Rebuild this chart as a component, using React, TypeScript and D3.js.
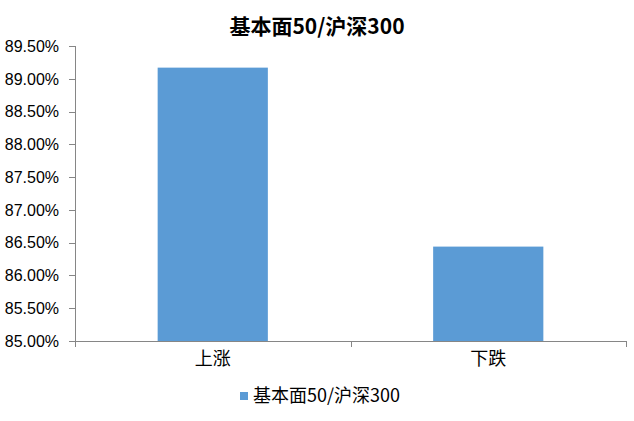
import React from "react";
import * as d3 from "d3";

const categories = ["上涨", "下跌"];
const values = [89.17, 86.44];
const yTicks = [85, 85.5, 86, 86.5, 87, 87.5, 88, 88.5, 89, 89.5];
const seriesName = "基本面50/沪深300";
const title = "基本面50/沪深300";

const W = 634;
const H = 421;
const left = 75;
const right = 626;
const top = 46;
const bottom = 341;
const color = "#5B9BD5";
const axisColor = "#868686";
const font = "'Liberation Sans', 'Noto Sans CJK SC', sans-serif";
const cjk = "'Noto Sans CJK SC', sans-serif";

export default function App() {
  const x = d3.scaleBand<string>().domain(categories).range([left, right]);
  const y = d3.scaleLinear().domain([85, 89.5]).range([bottom, top]);
  const barW = x.bandwidth() * 0.4;
  return (
    <svg width={W} height={H} style={{ position: "absolute", left: 0, top: 0, background: "#fff" }}>
      <text x={317} y={34} textAnchor="middle" fontFamily={cjk} fontWeight="bold" fontSize={21} fill="#000">
        {title}
      </text>
      {categories.map((c, i) => (
        <rect
          key={c}
          x={(x(c) as number) + (x.bandwidth() - barW) / 2}
          y={y(values[i])}
          width={barW}
          height={bottom - y(values[i])}
          fill={color}
        />
      ))}
      <line x1={left + 0.5} x2={left + 0.5} y1={top} y2={bottom} stroke={axisColor} strokeWidth={1} />
      {yTicks.map((t) => (
        <g key={t}>
          <line x1={left - 6} x2={left} y1={Math.round(y(t)) + 0.5} y2={Math.round(y(t)) + 0.5} stroke={axisColor} />
          <text x={59} y={y(t)} dy="0.36em" textAnchor="end" fontFamily={font} fontSize={16} fill="#000">
            {d3.format(".2f")(t) + "%"}
          </text>
        </g>
      ))}
      <line x1={left} x2={right} y1={bottom + 0.5} y2={bottom + 0.5} stroke={axisColor} />
      {[left, ...categories.map((c) => (x(c) as number) + x.bandwidth())].map((px, i) => (
        <line key={i} x1={Math.round(px) + 0.5} x2={Math.round(px) + 0.5} y1={bottom} y2={bottom + 6} stroke={axisColor} />
      ))}
      {categories.map((c) => (
        <text key={c} x={(x(c) as number) + x.bandwidth() / 2} y={365} textAnchor="middle" fontFamily={cjk} fontSize={18} fill="#000">
          {c}
        </text>
      ))}
      <rect x={240} y={392} width={8} height={8} fill={color} />
      <text x={253} y={402} fontFamily={cjk} fontSize={18} fill="#000">
        {seriesName}
      </text>
    </svg>
  );
}
